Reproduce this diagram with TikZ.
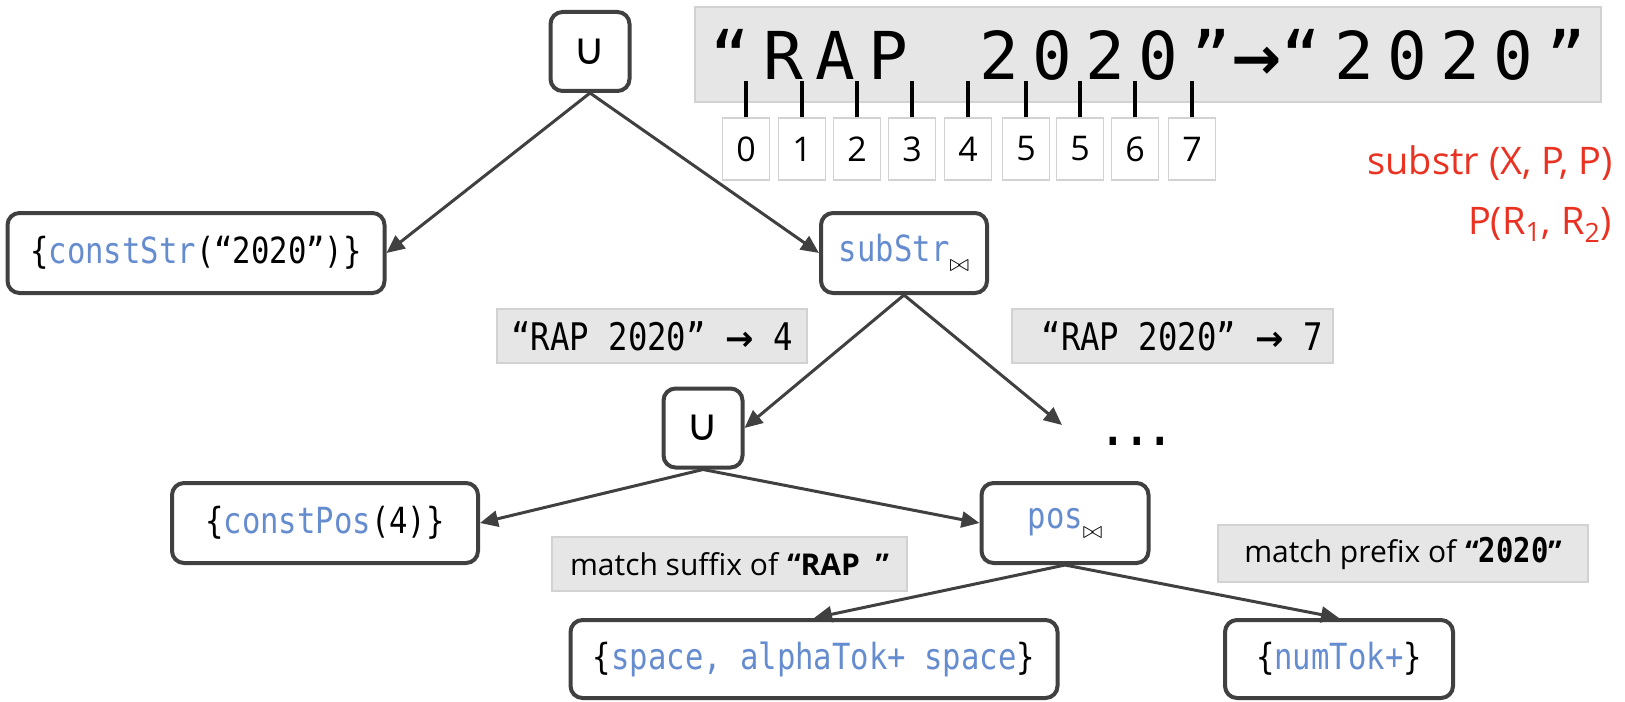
\documentclass[tikz,border=0pt]{standalone}
\usepackage{fontspec}
\setmainfont{Open Sans}
\newfontfamily\codefont[FakeStretch=0.85]{DejaVu Sans Mono}
\newfontfamily\bigcodefont[LetterSpace=20]{DejaVu Sans Mono}
\newfontfamily\symfont{DejaVu Sans}
\usetikzlibrary{arrows.meta, positioning, calc}

\definecolor{boxgray}{RGB}{64,64,64}
\definecolor{kwblue}{RGB}{102,140,208}
\definecolor{lblfill}{RGB}{230,230,230}
\definecolor{lbldraw}{RGB}{210,210,210}
\definecolor{inkred}{RGB}{234,50,35}

\newcommand{\kw}[1]{\textcolor{kwblue}{#1}}
\newcommand{\joinsub}{\raisebox{-5pt}{\fontsize{12}{12}\selectfont$\bowtie$}}
\newcommand{\bigarrow}{{\symfont\bfseries →}}

\tikzset{
  tnode/.style={draw=boxgray, line width=2pt, rounded corners=6pt, fill=white,
    inner sep=0pt, minimum height=40pt, font=\codefont\fontsize{18}{20}\selectfont},
  unode/.style={tnode, minimum width=39.5pt, minimum height=39.5pt, font=\symfont\fontsize{22}{22}\selectfont},
  lbl/.style={fill=lblfill, draw=lbldraw, line width=0.6pt, inner sep=0pt, minimum height=27pt},
  idxbox/.style={draw=lbldraw, line width=0.6pt, fill=white, inner sep=0pt,
    minimum width=23.5pt, minimum height=31pt, font=\fontsize{17}{17}\selectfont},
  tick/.style={line width=1.6pt, black},
  arr/.style={draw=boxgray, line width=1.5pt, -{Triangle[length=9pt,width=8pt]}},
  ink/.style={text=inkred, font=\fontsize{19}{19}\selectfont}
}

\begin{document}
\begin{tikzpicture}[x=0.5pt, y=-0.5pt]
  \useasboundingbox (0,0) rectangle (1625,701);

  % --- Input / output string ---
  \node[lbl, minimum width=453pt, minimum height=47.5pt,
        font=\bigcodefont\fontsize{33}{33}\selectfont] (src) at (1148,54.5)
        {“RAP\hspace{9pt} 2020”{\fontsize{30}{30}\bigarrow}“2020”};

  % position indices under the string
  \foreach \i/\x/\d in {0/746/0, 1/802/1, 2/857/2, 3/912/3, 4/968/4, 5/1026/5, 6/1080/5, 7/1135/6, 8/1192/7} {
    \node[idxbox] (idx\i) at (\x,149) {\d};
    \draw[tick] (idx\i.north) -- ++(0,-36);
  }

  % --- Tree nodes ---
  \node[unode] (u1) at (590,51.5) {∪};
  \node[tnode, minimum width=188.5pt] (cstr) at (196,253) {\{\kw{constStr}(“2020”)\}};
  \node[tnode, minimum width=83pt] (sstr) at (904,253) {\kw{subStr}\joinsub};
  \node[unode] (u2) at (703,428) {∪};
  \node[font=\codefont\bfseries\fontsize{23}{23}\selectfont] (dots) at (1137,441) {...};
  \coordinate (more) at (1062,425);
  \node[tnode, minimum width=153pt] (cpos) at (325,523) {\{\kw{constPos}(4)\}};
  \node[tnode, minimum width=83.5pt] (posn) at (1065,523) {\kw{pos}\joinsub};
  \node[tnode, minimum width=243.5pt, minimum height=39pt] (spc) at (814,659) {\{\kw{space, alphaTok+ space}\}};
  \node[tnode, minimum width=114pt, minimum height=39pt] (ntok) at (1339,659) {\{\kw{numTok+}\}};

  % --- Edge labels ---
  \node[lbl, minimum width=155pt, font=\codefont\fontsize{19}{20}\selectfont] (l4) at (652,336) {“RAP 2020” {\fontsize{17}{17}\bigarrow} 4};
  \node[lbl, minimum width=160.5pt, font=\codefont\fontsize{19}{20}\selectfont] (l7) at (1172.5,336) {\ “RAP 2020” {\fontsize{17}{17}\bigarrow} 7};
  \node[lbl, minimum width=177.5pt, font=\fontsize{15}{16}\selectfont] (lsuf) at (729.5,564) {match suffix of \textbf{“RAP~~”}};
  \node[lbl, minimum width=185pt, minimum height=28.5pt, font=\fontsize{15}{16}\selectfont] (lpre) at (1403,553.5)
        {match prefix of \textbf{“}{\codefont\bfseries\fontsize{17}{17}\selectfont 2020}\textbf{”}};

  % --- Edges ---
  \draw[arr] (u1.south) -- (cstr.east);
  \draw[arr] (u1.south) -- (sstr.west);
  \draw[arr] (sstr.south) -- (u2.east);
  \draw[arr] (sstr.south) -- (more);
  \draw[arr] (u2.south) -- (cpos.east);
  \draw[arr] (u2.south) -- (posn.west);
  \draw[arr] (posn.south) -- (spc.north);
  \draw[arr] (posn.south) -- (ntok.north);

  % handwritten notes
  \node[ink] (note1) at (1490,163) {substr (X, P, P)};
  \node[ink] (note2) at (1540,225) {P(R\textsubscript{1}, R\textsubscript{2})};
\end{tikzpicture}
\end{document}
